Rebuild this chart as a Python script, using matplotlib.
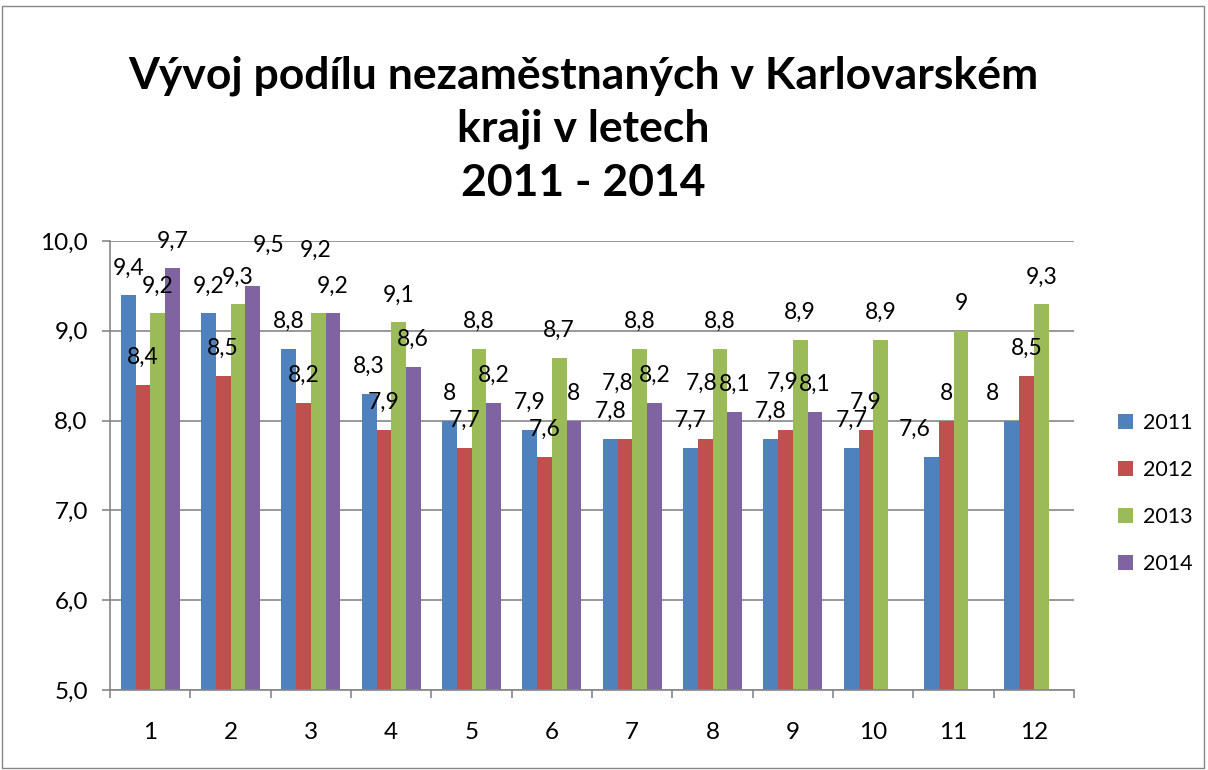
import numpy as np
import matplotlib as mpl
import matplotlib.pyplot as plt
from matplotlib.patches import Rectangle

mpl.rcParams["font.family"] = ["Lato", "DejaVu Sans"]

# DATA
months = [str(m) for m in range(1, 13)]
years = ["2011", "2012", "2013", "2014"]
v2011 = [9.4, 9.2, 8.8, 8.3, 8.0, 7.9, 7.8, 7.7, 7.8, 7.7, 7.6, 8.0]
v2012 = [8.4, 8.5, 8.2, 7.9, 7.7, 7.6, 7.8, 7.8, 7.9, 7.9, 8.0, 8.5]
v2013 = [9.2, 9.3, 9.2, 9.1, 8.8, 8.7, 8.8, 8.8, 8.9, 8.9, 9.0, 9.3]
v2014 = [9.7, 9.5, 9.2, 8.6, 8.2, 8.0, 8.2, 8.1, 8.1, None, None, None]
yticks = [5.0, 6.0, 7.0, 8.0, 9.0, 10.0]

colors = ["#4F81BD", "#C0504D", "#9BBB59", "#8064A2"]

# label nudges (series index, month index) -> (dx, dy) in pixels, as Excel placed them
nudges = {
	(3, 1): (16, 14),
	(2, 2): (-3, 36),
	(1, 6): (-7, 28),
	(1, 7): (-4, 28),
	(1, 8): (-3, 20),
	(0, 10): (-17, 0),
	(0, 11): (-19, 0),
}


def fmt(v):
	s = ("%.1f" % v).rstrip("0").rstrip(".")
	return s.replace(".", ",")


def main():
	fig = plt.figure(figsize=(12.08, 7.70), dpi=100)
	fig.patches.append(Rectangle((0.002, 0.002), 0.995, 0.99, transform=fig.transFigure,
		fill=False, edgecolor="#868686", lw=1))
	ax = fig.add_axes([0.0911, 0.1039, 0.7980, 0.5831])

	x = np.arange(len(months))
	w = 0.183
	series = [v2011, v2012, v2013, v2014]
	for i, (vals, col, lab) in enumerate(zip(series, colors, years)):
		idx = [k for k, v in enumerate(vals) if v is not None]
		ys = [vals[k] for k in idx]
		pos = x[idx] + (i - 1.5) * w
		ax.bar(pos, np.array(ys) - 5.0, bottom=5.0, width=w, color=col, label=lab, zorder=2)
		for k, px, py in zip(idx, pos, ys):
			dx, dy = nudges.get((i, k), (0, 0))
			ax.annotate(fmt(py), (px, py), xytext=(dx * 0.72, 19.4 + dy * 0.72),
				textcoords="offset points", ha="center", va="center",
				fontsize=16.5, color="black", zorder=4)

	ax.set_xlim(-0.5, len(months) - 0.5)
	ax.set_ylim(5.0, 10.0)
	ax.set_yticks(yticks)
	ax.set_yticklabels([("%.1f" % t).replace(".", ",") for t in yticks], fontsize=17.5)
	ax.set_xticks(x)
	ax.set_xticklabels(months, fontsize=17.5)
	ax.set_xticks(np.arange(len(months) + 1) - 0.5, minor=True)
	ax.tick_params(axis="x", which="major", length=0, pad=23)
	ax.tick_params(axis="x", which="minor", length=6, color="#868686", width=1.2)
	ax.tick_params(axis="y", length=6, color="#868686", width=1.2, pad=10)
	ax.grid(axis="y", color="#868686", lw=1.2, zorder=0)
	for s in ["top", "right"]:
		ax.spines[s].set_visible(False)
	for s in ["left", "bottom"]:
		ax.spines[s].set_color("#868686")
		ax.spines[s].set_linewidth(1.2)

	fig.text(0.483, 0.8325, "Vývoj podílu nezaměstnaných v Karlovarském\nkraji v letech\n2011 - 2014",
		ha="center", va="center", fontsize=32, fontweight="bold", linespacing=1.4)

	ax.legend(loc="center left", bbox_to_anchor=(1.025, 0.438), frameon=False,
		fontsize=15.5, handlelength=0.7, handleheight=0.7, handletextpad=0.5, labelspacing=1.25)

	plt.savefig("out.png")


if __name__ == "__main__":
	main()
